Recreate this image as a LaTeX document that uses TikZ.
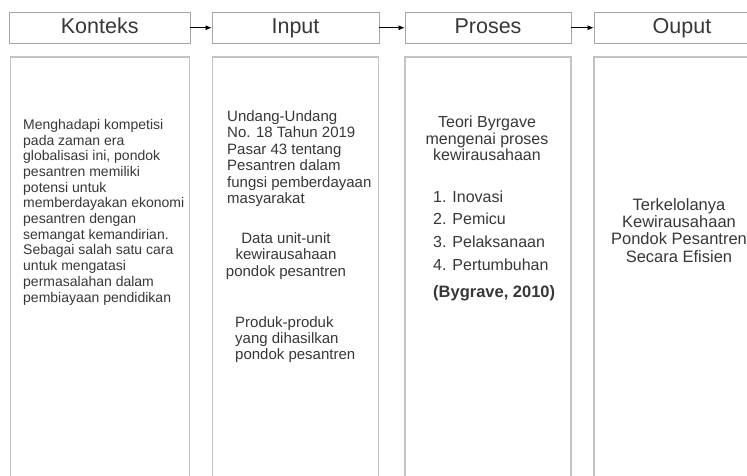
\documentclass[tikz,border=0pt]{standalone}
\usepackage{fontspec}
\setmainfont{Liberation Sans}
\usetikzlibrary{positioning, arrows.meta}
\definecolor{teksabu}{RGB}{55,55,55}
\definecolor{garisabu}{RGB}{165,165,165}
\definecolor{kolomabu}{RGB}{195,195,195}

\begin{document}
\begin{tikzpicture}[x=1pt, y=-1pt,
    judul/.style={draw=garisabu, line width=0.8pt, minimum height=31.5pt, inner sep=0pt, text height=15pt, text depth=4pt, text=teksabu, font=\fontsize{21.5}{24}\selectfont},
    kolom/.style={draw=kolomabu, line width=1.2pt, minimum height=460pt, inner sep=0pt},
    isi/.style={text=teksabu, inner sep=0pt, anchor=north west, align=left},
    panah/.style={-{Latex[length=6pt,width=5pt]}, line width=0.7pt, black}]
    \useasboundingbox (0,0) rectangle (747,476);
    \clip (0,0) rectangle (747,476);

    \node[judul, minimum width=180.5pt] (konteks) at (99.75,27.75) {Konteks};
    \node[judul, minimum width=167pt] (input) at (295.5,27.75) {Input};
    \node[judul, minimum width=166pt] (proses) at (488,27.75) {Proses};
    \node[judul, minimum width=176pt] (ouput) at (682,27.75) {Ouput};

    \draw[panah] (konteks) -- (input);
    \draw[panah] (input) -- (proses);
    \draw[panah] (proses) -- (ouput);

    \node[kolom, minimum width=179pt, below=12.5pt of konteks] (kolomkonteks) {};
    \node[kolom, minimum width=166.5pt, below=12.5pt of input] (kolominput) {};
    \node[kolom, minimum width=166pt, below=12.5pt of proses] (kolomproses) {};
    \node[kolom, minimum width=176pt, below=12.5pt of ouput] (kolomouput) {};

    \node[isi, font=\fontsize{14}{15.7}\selectfont] (tkonteks) at (23,119)
        {Menghadapi kompetisi\\pada zaman era\\globalisasi ini, pondok\\pesantren memiliki\\potensi untuk\\memberdayakan ekonomi\\pesantren dengan\\semangat kemandirian.\\Sebagai salah satu cara\\untuk mengatasi\\permasalahan dalam\\pembiayaan pendidikan};

    \node[isi, font=\fontsize{15}{16.4}\selectfont] (tundang) at (227,110.5)
        {Undang-Undang\\No. 18 Tahun 2019\\Pasar 43 tentang\\Pesantren dalam\\fungsi pemberdayaan\\masyarakat};
    \node[isi, anchor=north, align=center, font=\fontsize{15}{16.4}\selectfont] (tdata) at (286,232.5)
        {Data unit-unit\\kewirausahaan\\pondok pesantren};
    \node[isi, font=\fontsize{15}{16.4}\selectfont] (tproduk) at (235,316)
        {Produk-produk\\yang dihasilkan\\pondok pesantren};

    \node[isi, anchor=north, align=center, font=\fontsize{16}{16.5}\selectfont] (tteori) at (487,116)
        {Teori Byrgave\\mengenai proses\\kewirausahaan};
    \node[isi, font=\fontsize{16}{22.7}\selectfont] (ttahap) at (433,190.5)
        {1. Inovasi\\2. Pemicu\\3. Pelaksanaan\\4. Pertumbuhan};
    \node[isi, font=\fontsize{16.5}{18}\selectfont\bfseries] (tsumber) at (433,285)
        {(Bygrave, 2010)};

    \node[isi, anchor=north, align=center, font=\fontsize{16.5}{17.3}\selectfont] (thasil) at (679,198)
        {Terkelolanya\\Kewirausahaan\\Pondok Pesantren\\Secara Efisien};
\end{tikzpicture}
\end{document}
